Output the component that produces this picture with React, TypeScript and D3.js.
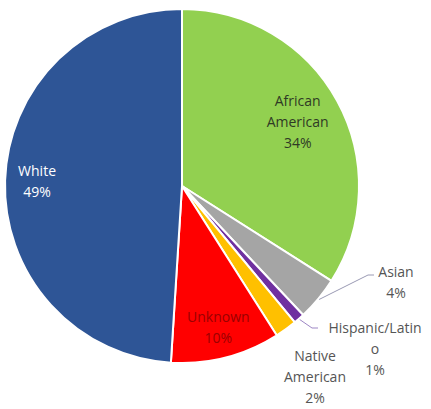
import React from "react";
import * as d3 from "d3";

const categories = ["African American", "Asian", "Hispanic/Latino", "Native American", "Unknown", "White"];
const values = [34, 4, 1, 2, 10, 49];
const labelLines = [
  ["African", "American", "34%"],
  ["Asian", "4%"],
  ["Hispanic/Latin", "o", "1%"],
  ["Native", "American", "2%"],
  ["Unknown", "10%"],
  ["White", "49%"],
];
const colors = ["#92D050", "#A5A5A5", "#7030A0", "#FFC000", "#FF0000", "#2E5596"];
const textColors = ["#2F3A25", "#555555", "#555555", "#555555", "#9A0000", "#FFFFFF"];

const W = 431;
const H = 409;
const CX = 182;
const CY = 186;
const R = 177;

// layout: inside labels use a radius; outside labels use a fixed anchor + leader
const inside: Record<number, number> = { 0: 132, 4: 146, 5: 145 };
const outside: Record<number, { x: number; y: number; leader: boolean; elbow?: [number, number] }> = {
  1: { x: 396, y: 272, leader: true, elbow: [368, 275] },
  2: { x: 375, y: 328, leader: true, elbow: [312, 328] },
  3: { x: 315, y: 356, leader: false },
};

export default function App() {
  const pie = d3.pie<number>().sort(null).value((d) => d).startAngle(0).endAngle(2 * Math.PI);
  const arcs = pie(values);
  const arc = d3.arc<d3.PieArcDatum<number>>().innerRadius(0).outerRadius(R);
  const lh = 21;

  return (
    <svg width={W} height={H} style={{ position: "absolute", left: 0, top: 0, background: "#fff" }}>
      <g transform={`translate(${CX},${CY})`}>
        {arcs.map((a, i) => (
          <path key={categories[i]} d={arc(a) || ""} fill={colors[i]} stroke="#fff" strokeWidth={2} strokeLinejoin="round" />
        ))}
      </g>
      {arcs.map((a, i) => {
        const mid = (a.startAngle + a.endAngle) / 2;
        const lines = labelLines[i];
        const common = {
          fontFamily: "'Open Sans', Lato, sans-serif",
          fontSize: 14,
          textAnchor: "middle" as const,
          fill: textColors[i],
        };
        if (inside[i] !== undefined) {
          const r = inside[i];
          const x = CX + Math.sin(mid) * r;
          const y = CY - Math.cos(mid) * r;
          const y0 = y - ((lines.length - 1) * lh) / 2;
          return (
            <text key={"l" + i} {...common}>
              {lines.map((t, k) => (
                <tspan key={k} x={x} y={y0 + k * lh} dy="0.35em">{t}</tspan>
              ))}
            </text>
          );
        }
        const o = outside[i];
        const sx = CX + Math.sin(mid) * (R + 1);
        const sy = CY - Math.cos(mid) * (R + 1);
        return (
          <g key={"l" + i}>
            {o.leader && o.elbow && (
              <polyline
                points={`${sx},${sy} ${o.elbow[0]},${o.elbow[1]} ${o.elbow[0] + 6},${o.elbow[1]}`}
                fill="none"
                stroke={i === 2 ? "#9D86C4" : "#9A9AB4"}
                strokeWidth={1}
              />
            )}
            <text {...common}>
              {lines.map((t, k) => (
                <tspan key={k} x={o.x} y={o.y + k * lh} dy="0.35em">{t}</tspan>
              ))}
            </text>
          </g>
        );
      })}
    </svg>
  );
}
